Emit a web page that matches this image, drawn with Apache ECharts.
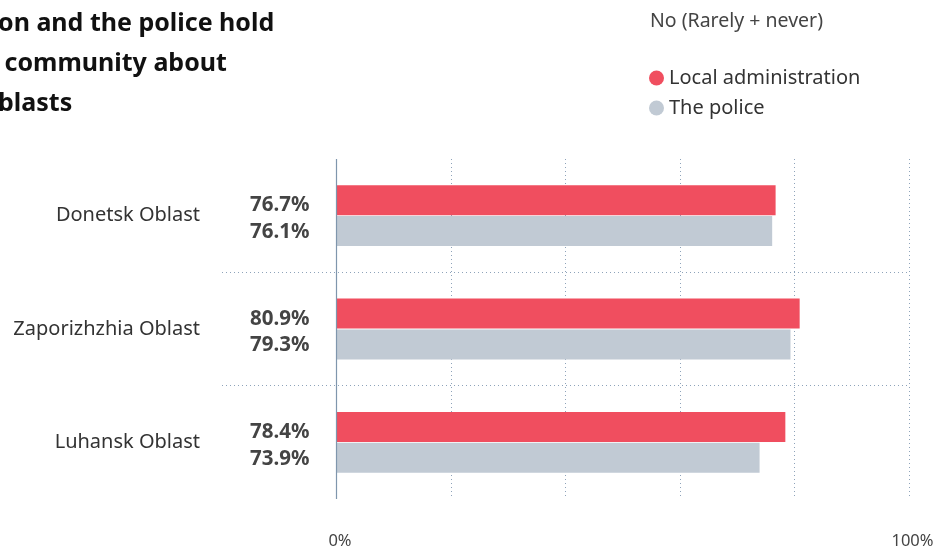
<!DOCTYPE html>
<html><head><meta charset="utf-8">
<script src="https://cdn.jsdelivr.net/npm/echarts@6/dist/echarts.min.js"></script>
<style>html,body{margin:0;padding:0;background:#fff}#c{width:943px;height:554px}</style>
</head><body><div id="c"></div>
<script>
const categories = ['Donetsk Oblast', 'Zaporizhzhia Oblast', 'Luhansk Oblast'];
const localAdmin = [76.7, 80.9, 78.4];
const police = [76.1, 79.3, 73.9];
const seriesNames = ['Local administration', 'The police'];
const titleText = 'on and the police hold\n community about\nblasts';
const subtitleText = 'No (Rarely + never)';
const xTickLabels = {0: '0%', 100: '100%'};

const FONT = '"Noto Sans", sans-serif';
const chart = echarts.init(document.getElementById('c'), null, {renderer: 'canvas'});
const valueLabel = (pos) => ({
  show: true, position: pos, align: 'right', verticalAlign: 'middle',
  formatter: p => p.value.toFixed(1) + '%',
  fontFamily: FONT, fontSize: 20.5, fontWeight: 'bold', color: '#444'
});
chart.setOption({
  animation: false,
  textStyle: {fontFamily: FONT},
  title: [
    {text: titleText, left: -2, top: 4, padding: 0,
     textStyle: {fontFamily: FONT, fontSize: 25, fontWeight: 'bold', color: '#111', lineHeight: 40}},
    {text: subtitleText, left: 650, top: 11, padding: 0,
     textStyle: {fontFamily: FONT, fontSize: 19.5, fontWeight: 'normal', color: '#444'}}
  ],
  legend: {
    orient: 'vertical', left: 644, top: 63, icon: 'circle', itemWidth: 15, itemHeight: 15,
    itemGap: 10, textStyle: {fontFamily: FONT, fontSize: 20, color: '#333', padding: [0,0,0,0]},
    data: seriesNames
  },
  grid: {left: 222, right: 34, top: 159, bottom: 55, containLabel: false},
  xAxis: {
    type: 'value', min: -20, max: 100, interval: 20,
    axisLine: {show: false}, axisTick: {show: false},
    axisLabel: {margin: 34, fontFamily: FONT, fontSize: 16.5, color: '#444', padding: [0, 0, 0, 7],
      formatter: v => xTickLabels[v] || ''},
    splitLine: {show: true, showMinLine: false,
      lineStyle: {type: [1, 3], color: '#8ea3ba', width: 1}}
  },
  yAxis: {
    type: 'category', data: categories, inverse: true,
    axisLine: {show: false}, axisTick: {show: false},
    axisLabel: {margin: 22, fontFamily: FONT, fontSize: 20, color: '#333'},
    splitLine: {show: true, showMinLine: false, showMaxLine: false,
      lineStyle: {type: [1, 3], color: '#8ea3ba', width: 1}}
  },
  series: [
    {name: seriesNames[0], type: 'bar', data: localAdmin, barWidth: 30, barGap: '3%',
     itemStyle: {color: '#F04E5F'}, label: valueLabel([-27, '68%']),
     markLine: {silent: true, symbol: 'none', label: {show: false},
       lineStyle: {type: 'solid', color: '#7f96ad', width: 1.2}, data: [{xAxis: 0}]}},
    {name: seriesNames[1], type: 'bar', data: police, barWidth: 30,
     itemStyle: {color: '#C1CAD4'}, label: valueLabel([-27, '54%'])}
  ]
});
</script></body></html>
